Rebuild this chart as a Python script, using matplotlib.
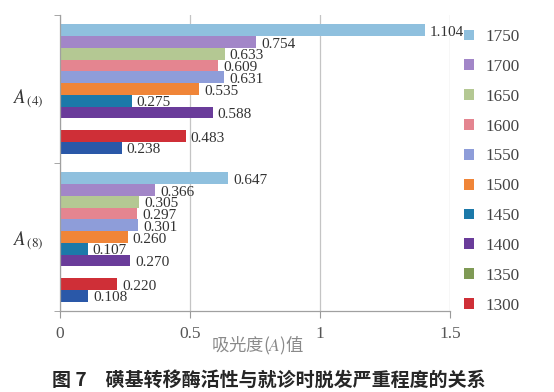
import matplotlib
matplotlib.use("Agg")
import matplotlib.pyplot as plt
import numpy as np

# ---- data ----
groups = ["A4", "A8"]
group_labels = [r"$A_{\,(4)}$", r"$A_{\,(8)}$"]
series_names = ["1750", "1700", "1650", "1600", "1550", "1500", "1450", "1400", "1350", "1300", "1250"]
legend_count = 10  # only the first 10 series appear in the legend
a4_values = [1.405, 0.754, 0.633, 0.609, 0.631, 0.535, 0.275, 0.588, np.nan, 0.483, 0.238]
a8_values = [0.647, 0.366, 0.305, 0.297, 0.301, 0.260, 0.107, 0.270, np.nan, 0.220, 0.108]
a4_labels = ["1.104", "0.754", "0.633", "0.609", "0.631", "0.535", "0.275", "0.588", "", "0.483", "0.238"]
a8_labels = ["0.647", "0.366", "0.305", "0.297", "0.301", "0.260", "0.107", "0.270", "", "0.220", "0.108"]
x_ticks = [0, 0.5, 1, 1.5]
x_tick_labels = ["0", "0.5", "1", "1.5"]
colors = ["#8fc0de", "#a286c8", "#b4c893", "#e48590", "#8e9dd9", "#f08538",
          "#1c79a9", "#6a3c9a", "#7f9a55", "#cf2f37", "#2a58a8"]

plt.rcParams["mathtext.fontset"] = "stix"
serif = ["Liberation Serif", "DejaVu Serif"]
cjk = ["Noto Sans CJK SC", "DejaVu Sans"]

fig = plt.figure(figsize=(5.54, 3.92), dpi=100)
ax = fig.add_axes([60 / 554, 1 - 311 / 392, 390 / 554, 296 / 392])

values_by_group = [a4_values, a8_values]
labels_by_group = [a4_labels, a8_labels]
n = len(series_names)
slot = 0.0795
handles = []
for i, name in enumerate(series_names):
    ys = [g - (n - 1) / 2 * slot + i * slot for g in range(len(groups))]
    vals = [values_by_group[g][i] for g in range(len(groups))]
    bars = ax.barh(ys, np.nan_to_num(vals), height=slot, color=colors[i],
                   edgecolor="none", zorder=2, label=name)
    handles.append(bars)
    for g in range(len(groups)):
        txt = labels_by_group[g][i]
        if txt:
            ax.annotate(txt, (vals[g], ys[g]), xytext=(3.5, -1.5), textcoords="offset points",
                        va="center", ha="left", fontsize=11, family=serif,
                        color="#333333", zorder=4)

ax.set_xlim(0, 1.5)
ax.set_ylim(1.5, -0.5)
ax.set_xticks(x_ticks)
ax.set_xticklabels(x_tick_labels, family=serif, fontsize=12.5, color="#555555")
ax.set_yticks([0.04, 1])
ax.set_yticklabels(group_labels, fontsize=13.5, color="#333333")
ax.set_yticks([-0.5, 0.5, 1.5], minor=True)
ax.tick_params(axis="y", which="major", length=0, pad=12)
ax.tick_params(axis="y", which="minor", length=4, color="#999999", direction="out")
ax.tick_params(axis="x", length=5, color="#999999", direction="out", pad=6)
ax.grid(axis="x", color="#c4c4c4", linewidth=0.9, zorder=0)
ax.set_axisbelow(True)
for side in ["top", "right"]:
    ax.spines[side].set_visible(False)
for side in ["left", "bottom"]:
    ax.spines[side].set_color("#a0a0a0")
    ax.spines[side].set_linewidth(0.9)

leg = fig.legend(handles[:legend_count], series_names[:legend_count],
                 loc="upper left", bbox_to_anchor=(464 / 554, 1 - 29 / 392),
                 frameon=False, prop={"family": serif, "size": 12.3},
                 handlelength=0.6, handleheight=0.6, handletextpad=0.65,
                 labelspacing=0.81, borderaxespad=0, borderpad=0)
for t in leg.get_texts():
    t.set_color("#444444")

fig.text(258 / 554, 1 - 345 / 392, "吸光度($A$)值", ha="center", va="center",
         fontsize=12.5, family=cjk, color="#8a8a8a")
fig.text(52 / 554, 1 - 380 / 392, "图 7　磺基转移酶活性与就诊时脱发严重程度的关系",
         ha="left", va="center", fontsize=13.7, family=cjk, weight="bold", color="#262626")

fig.savefig("out.png", dpi=100)
